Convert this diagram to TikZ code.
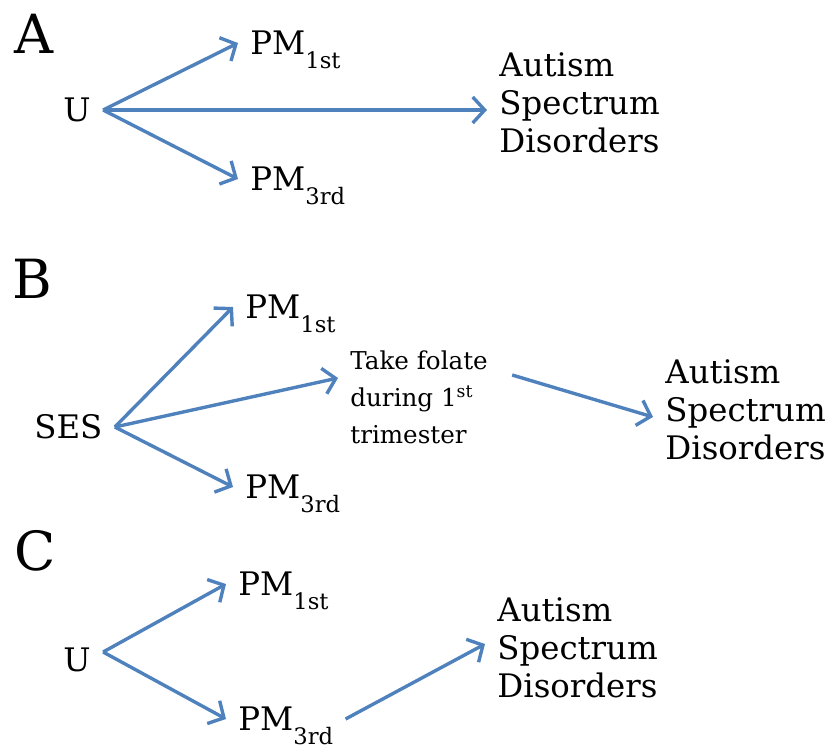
\documentclass[tikz,border=0pt]{standalone}
\usepackage{fontspec}
\setmainfont{DejaVu Serif}
\usetikzlibrary{arrows.meta}
\definecolor{arrowblue}{HTML}{4F81BD}
\newcommand{\lowsub}[1]{\smash{\raisebox{-0.42em}{\scalebox{0.7}{#1}}}}
\tikzset{
  panellabel/.style={font=\fontsize{27}{30}\selectfont, inner sep=0pt, anchor=base west},
  varnode/.style={
    font=\fontsize{16.2}{19}\selectfont,
    inner xsep=6pt,
    inner ysep=2pt,
    anchor=west
  },
  outcome/.style={varnode, align=left},
  exposure/.style={
    font=\fontsize{12.3}{18.5}\selectfont,
    inner xsep=6pt,
    inner ysep=2pt,
    anchor=west,
    align=left
  },
  causal/.style={-{Straight Barb[length=6pt,width=13pt]}, line width=1.7pt, draw=arrowblue}
}

\begin{document}
\begin{tikzpicture}[x=0.5pt,y=-0.5pt]
  \useasboundingbox (0,0) rectangle (840,750);

  % A
  \node[panellabel] (labA) at (14,53) {A};
  \node[varnode] (uA) at (51,110) {U};
  \node[varnode] (pm1A) at (238,43) {PM\lowsub{1st}};
  \node[varnode] (pm3A) at (238,179) {PM\lowsub{3rd}};
  \node[outcome] (asdA) at (487,103) {Autism\\Spectrum\\Disorders};
  \draw[causal] (uA.east) -- (pm1A.west);
  \draw[causal] (uA.east) -- (pm3A.west);
  \draw[causal] (uA.east) -- (uA.east -| asdA.west);

  % B
  \node[panellabel] (labB) at (12,298) {B};
  \node[varnode] (sesB) at (22,427) {SES};
  \node[varnode] (pm1B) at (233,307) {PM\lowsub{1st}};
  \node[varnode] (pm3B) at (233,487) {PM\lowsub{3rd}};
  \node[exposure] (folB) at (338,397) {Take folate\\during 1\textsuperscript{st}\\trimester};
  \node[outcome] (asdB) at (653,410) {Autism\\Spectrum\\Disorders};
  \draw[causal] (sesB.east) -- (pm1B.west);
  \draw[causal] (sesB.east) -- ([yshift=9.5pt]folB.west);
  \draw[causal] (sesB.east) -- (pm3B.west);
  \draw[causal] ([xshift=6pt,yshift=11pt]folB.east) -- ([yshift=-3.5pt]asdB.west);

  % C
  \node[panellabel] (labC) at (14,570) {C};
  \node[varnode] (uC) at (51,660) {U};
  \node[varnode] (pm1C) at (226,584) {PM\lowsub{1st}};
  \node[varnode] (pm3C) at (226,719) {PM\lowsub{3rd}};
  \node[outcome] (asdC) at (485,648) {Autism\\Spectrum\\Disorders};
  \draw[causal] ([yshift=4pt]uC.east) -- (pm1C.west);
  \draw[causal] ([yshift=4pt]uC.east) -- (pm3C.west);
  \draw[causal] (pm3C.east) -- ([yshift=2pt]asdC.west);
\end{tikzpicture}
\end{document}
